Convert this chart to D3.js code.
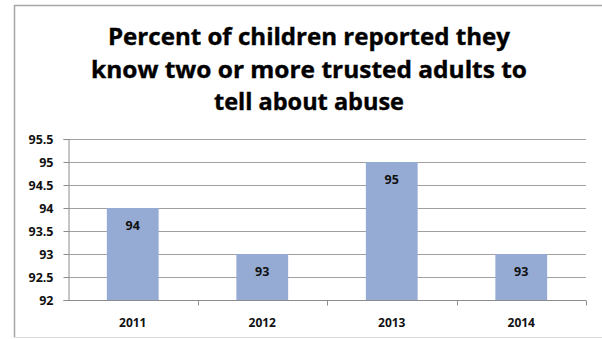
<!DOCTYPE html>
<html>
<head>
<meta charset="utf-8">
<script src="https://cdn.jsdelivr.net/npm/d3@7"></script>
<style>
  html, body { margin: 0; padding: 0; background: #fff; }
  svg { display: block; }
  text { font-family: "Open Sans", Lato, "DejaVu Sans", sans-serif; }
</style>
</head>
<body>
<svg id="chart" width="602" height="339"></svg>
<script>
// Chart data
const years = ["2011", "2012", "2013", "2014"];
const percents = [94, 93, 95, 93];
const yTicks = [92, 92.5, 93, 93.5, 94, 94.5, 95, 95.5];
const titleLines = [
  "Percent of children reported they",
  "know two or more trusted adults to",
  "tell about abuse"
];

const svg = d3.select("#chart");
const W = 602, H = 339;

// Outer frame (left, top, bottom edges)
svg.append("path")
  .attr("d", `M14.5,${H - 1.5} L14.5,5.5 L${W},5.5`)
  .attr("fill", "none").attr("stroke", "#a6a6a6").attr("stroke-width", 1.5);
svg.append("line")
  .attr("x1", 14).attr("x2", W).attr("y1", H - 1.5).attr("y2", H - 1.5)
  .attr("stroke", "#d9d9d9").attr("stroke-width", 1);

// Title, each line condensed to its width
const title = svg.append("g").attr("text-anchor", "middle");
const titleY = [45, 78, 110];
const titleWidths = [402, 436, 190];
titleLines.forEach((t, i) => {
  title.append("text")
    .attr("x", 309).attr("y", titleY[i])
    .attr("font-size", 24).attr("font-weight", 700).attr("fill", "#000")
    .attr("stroke", "#000").attr("stroke-width", 0.4)
    .attr("textLength", titleWidths[i]).attr("lengthAdjust", "spacingAndGlyphs")
    .text(t);
});

// Plot area
const plotL = 68, plotR = 586, plotT = 139, plotB = 300;

const x = d3.scaleBand().domain(years).range([plotL, plotR]).paddingInner(0.6).paddingOuter(0.3);
const xb = d3.scaleBand().domain(years).range([plotL, plotR]);
const y = d3.scaleLinear().domain([92, 95.5]).range([plotB, plotT]);

// Horizontal gridlines
svg.append("g")
  .selectAll("line").data(yTicks.slice(1)).join("line")
  .attr("x1", plotL).attr("x2", plotR)
  .attr("y1", d => Math.round(y(d)) + 0.5).attr("y2", d => Math.round(y(d)) + 0.5)
  .attr("stroke", "#a0a0a0").attr("stroke-width", 1);

// Bars
svg.append("g")
  .selectAll("rect").data(years).join("rect")
  .attr("x", d => x(d))
  .attr("width", x.bandwidth())
  .attr("y", (d, i) => y(percents[i]))
  .attr("height", (d, i) => plotB - y(percents[i]))
  .attr("fill", "#95abd4");

// Value labels inside bars
svg.append("g").attr("text-anchor", "middle")
  .selectAll("text").data(years).join("text")
  .attr("x", d => x(d) + x.bandwidth() / 2)
  .attr("y", (d, i) => y(percents[i]) + 22)
  .attr("font-size", 12.5).attr("font-weight", "bold").attr("fill", "#111")
  .text((d, i) => percents[i]);

// Y axis
const yAxis = svg.append("g")
  .attr("transform", `translate(${plotL + 0.5},0)`)
  .call(d3.axisLeft(y).tickValues(yTicks).tickFormat(d3.format("~g")).tickSize(5).tickPadding(10));
yAxis.select(".domain").attr("stroke", "#8c8c8c");
yAxis.selectAll(".tick line").attr("stroke", "#8c8c8c");
yAxis.selectAll(".tick text")
  .attr("font-size", 12.5).attr("font-weight", "bold").attr("fill", "#111")
  .attr("font-family", "\"Open Sans\", Lato, sans-serif");

// X axis with ticks at category boundaries
const xAxis = svg.append("g").attr("transform", `translate(0,${plotB + 0.5})`);
xAxis.append("line")
  .attr("x1", plotL).attr("x2", plotR).attr("stroke", "#8c8c8c");
xAxis.selectAll("line.tk").data(years).join("line").attr("class", "tk")
  .attr("x1", d => Math.round(xb(d) + xb.bandwidth()) + 0.5)
  .attr("x2", d => Math.round(xb(d) + xb.bandwidth()) + 0.5)
  .attr("y1", 0).attr("y2", 5).attr("stroke", "#8c8c8c");
xAxis.selectAll("text.lbl").data(years).join("text").attr("class", "lbl")
  .attr("x", d => xb(d) + xb.bandwidth() / 2)
  .attr("y", 26)
  .attr("text-anchor", "middle")
  .attr("font-size", 12).attr("font-weight", "bold").attr("fill", "#111")
  .text(d => d);
</script>
</body>
</html>
